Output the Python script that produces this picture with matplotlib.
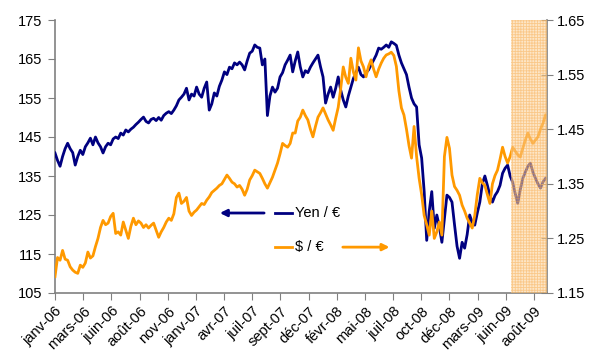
import matplotlib
matplotlib.use("Agg")
import matplotlib.pyplot as plt
import pandas as pd

plt.rcParams['font.family'] = ['Liberation Sans', 'DejaVu Sans']
plt.rcParams['hatch.linewidth'] = 0.6

# weekly fixings, starting 2 Jan 2006
obs_dates = pd.date_range('2006-01-02', periods=195, freq='7D')

yen_eur = [
    140.9, 139.0, 137.5, 140.0, 142.0, 143.4, 142.0, 141.0, 137.8, 140.0,
    141.6, 140.5, 142.5, 143.5, 144.7, 143.0, 145.0, 143.5, 142.5, 140.9,
    142.5, 143.4, 143.0, 144.5, 145.0, 144.6, 146.0, 145.5, 146.8, 146.3,
    147.0, 147.5, 148.2, 148.8, 149.5, 150.1, 149.0, 148.6, 149.5, 149.8,
    149.2, 150.0, 149.3, 150.5, 151.1, 151.5, 151.0, 151.9, 153.0, 154.5,
    155.2, 156.0, 157.5, 154.5, 156.0, 155.5, 157.8, 156.0, 155.2, 157.5,
    159.1, 151.9, 153.5, 156.3, 155.5, 158.0, 159.6, 161.7, 161.0, 162.9,
    162.5, 164.0, 163.5, 164.2, 163.5, 162.2, 164.5, 166.5, 167.0, 168.6,
    168.0, 167.8, 163.5, 165.0, 150.5, 155.5, 157.8, 156.5, 157.5, 160.4,
    161.5, 163.5, 164.7, 166.0, 161.7, 164.5, 166.8, 163.0, 160.4, 162.0,
    161.5, 162.9, 164.0, 165.0, 166.0, 163.0, 160.4, 153.7, 156.0, 157.8,
    155.2, 157.5, 160.4, 157.0, 154.5, 152.7, 155.5, 157.8, 160.0, 161.5,
    162.9, 161.0, 160.4, 161.5, 162.2, 163.5, 164.7, 166.0, 167.8, 167.5,
    168.0, 168.6, 168.0, 169.4, 169.0, 168.5, 166.0, 164.0, 162.5, 161.0,
    157.8, 155.0, 153.5, 152.7, 143.0, 139.6, 131.0, 118.5, 126.0, 131.0,
    121.6, 125.0, 122.0, 118.0, 124.0, 130.1, 129.5, 128.3, 122.5, 117.0,
    113.9, 118.0, 116.5, 120.0, 125.0, 123.0, 122.4, 125.5, 128.3, 133.0,
    135.0, 132.6, 130.0, 128.3, 130.0, 131.0, 132.6, 135.7, 137.0, 137.8,
    135.0, 133.4, 130.5, 128.0, 131.5, 134.4, 136.0, 137.5, 138.3, 136.0,
    134.4, 133.0, 131.9, 133.5, 134.4]

usd_eur = [
    1.180, 1.215, 1.210, 1.228, 1.212, 1.210, 1.198, 1.192, 1.188, 1.186,
    1.201, 1.197, 1.205, 1.225, 1.214, 1.218, 1.235, 1.250, 1.270, 1.283,
    1.275, 1.278, 1.290, 1.296, 1.259, 1.262, 1.256, 1.280, 1.265, 1.250,
    1.272, 1.287, 1.275, 1.282, 1.278, 1.270, 1.275, 1.269, 1.274, 1.278,
    1.265, 1.252, 1.262, 1.270, 1.280, 1.287, 1.283, 1.295, 1.325, 1.333,
    1.314, 1.318, 1.325, 1.300, 1.292, 1.298, 1.302, 1.308, 1.314, 1.312,
    1.320, 1.326, 1.334, 1.338, 1.342, 1.347, 1.350, 1.358, 1.366, 1.360,
    1.353, 1.350, 1.344, 1.347, 1.340, 1.329, 1.340, 1.357, 1.365, 1.375,
    1.372, 1.369, 1.360, 1.350, 1.342, 1.352, 1.362, 1.375, 1.388, 1.405,
    1.424, 1.420, 1.417, 1.424, 1.443, 1.443, 1.465, 1.472, 1.485, 1.475,
    1.467, 1.450, 1.436, 1.455, 1.472, 1.480, 1.489, 1.478, 1.467, 1.458,
    1.448, 1.470, 1.490, 1.525, 1.564, 1.545, 1.534, 1.580, 1.555, 1.540,
    1.599, 1.575, 1.564, 1.546, 1.565, 1.577, 1.560, 1.546, 1.560, 1.571,
    1.580, 1.586, 1.588, 1.591, 1.585, 1.565, 1.520, 1.489, 1.476, 1.450,
    1.420, 1.397, 1.455, 1.400, 1.360, 1.330, 1.292, 1.275, 1.256, 1.300,
    1.250, 1.262, 1.280, 1.256, 1.400, 1.435, 1.415, 1.366, 1.345, 1.338,
    1.329, 1.311, 1.300, 1.287, 1.278, 1.269, 1.292, 1.330, 1.360, 1.352,
    1.347, 1.330, 1.314, 1.350, 1.365, 1.375, 1.395, 1.417, 1.400, 1.388,
    1.400, 1.417, 1.410, 1.403, 1.399, 1.415, 1.430, 1.443, 1.432, 1.424,
    1.430, 1.436, 1.450, 1.461, 1.476]

tick_labels = ['janv-06', 'mars-06', 'juin-06', 'août-06', 'nov-06', 'janv-07',
               'avr-07', 'juil-07', 'sept-07', 'déc-07', 'févr-08', 'mai-08',
               'juil-08', 'oct-08', 'déc-08', 'mars-09', 'juin-09', 'août-09']

left_ticks = [105, 115, 125, 135, 145, 155, 165, 175]
right_ticks = [1.15, 1.25, 1.35, 1.45, 1.55, 1.65]

start = pd.Timestamp('2006-01-02')
end = pd.Timestamp('2009-09-25')
shade_start = pd.Timestamp('2009-06-17')

NAVY = '#000080'
ORANGE = '#FF9900'
GREY = '#808080'

fig = plt.figure(figsize=(5.9, 3.52), dpi=100)
ax = fig.add_axes([55 / 590, 1 - 293 / 352, 492 / 590, 273 / 352])
ax2 = ax.twinx()

ax.plot(obs_dates, yen_eur, color=NAVY, lw=2.0, zorder=3)
ax2.plot(obs_dates, usd_eur, color=ORANGE, lw=2.0, zorder=2)

# forecast zone, drawn over the lines
ax2.axvspan(shade_start, end, facecolor='#FDD39A', alpha=0.55, zorder=5,
            edgecolor='none')
ax2.axvspan(shade_start, end, facecolor='none', hatch='++++++', alpha=0.45,
            edgecolor='#F7A540', linewidth=0, zorder=5)

ax.set_xlim(start, end)
ax.set_ylim(105, 175)
ax2.set_ylim(1.15, 1.65)
ax.set_yticks(left_ticks)
ax2.set_yticks(right_ticks)
ax2.set_yticklabels([f'{v:.2f}' for v in right_ticks])

tick_pos = pd.date_range(start, periods=len(tick_labels), freq='78D')
ax.set_xticks(tick_pos)
ax.set_xticklabels(tick_labels, rotation=45, ha='right', rotation_mode='anchor')

for a in (ax, ax2):
    a.spines['top'].set_visible(False)
    for s in ('left', 'right', 'bottom'):
        a.spines[s].set_color(GREY)
        a.spines[s].set_linewidth(1.2)
ax.spines['right'].set_visible(False)
ax2.spines['left'].set_visible(False)
ax2.spines['bottom'].set_visible(False)

ax.tick_params(axis='y', direction='out', length=5, color=GREY, labelsize=10.5,
               pad=4)
ax.tick_params(axis='x', direction='out', length=5, color=GREY, labelsize=10.5,
               pad=3)
ax2.tick_params(axis='y', direction='inout', length=8, color=GREY,
                labelsize=10.5, pad=3)

# hand-made legend with arrows pointing to each axis
ly1, ly2 = 0.293, 0.168
ax.annotate('', xy=(0.335, ly1), xytext=(0.425, ly1), xycoords='axes fraction',
            arrowprops=dict(arrowstyle='-|>', color=NAVY, lw=2,
                            mutation_scale=10, shrinkA=0, shrinkB=0))
ax.plot([0.448, 0.482], [ly1, ly1], transform=ax.transAxes, color=NAVY, lw=2,
        clip_on=False)
ax.text(0.488, ly1, 'Yen / €', transform=ax.transAxes, va='center',
        ha='left', fontsize=10.5)
ax.plot([0.448, 0.482], [ly2, ly2], transform=ax.transAxes, color=ORANGE,
        lw=2, clip_on=False)
ax.text(0.488, ly2, '$ / €', transform=ax.transAxes, va='center', ha='left',
        fontsize=10.5)
ax.annotate('', xy=(0.680, ly2), xytext=(0.585, ly2), xycoords='axes fraction',
            arrowprops=dict(arrowstyle='-|>', color=ORANGE, lw=2,
                            mutation_scale=10, shrinkA=0, shrinkB=0))

fig.savefig('out.png', dpi=100)
